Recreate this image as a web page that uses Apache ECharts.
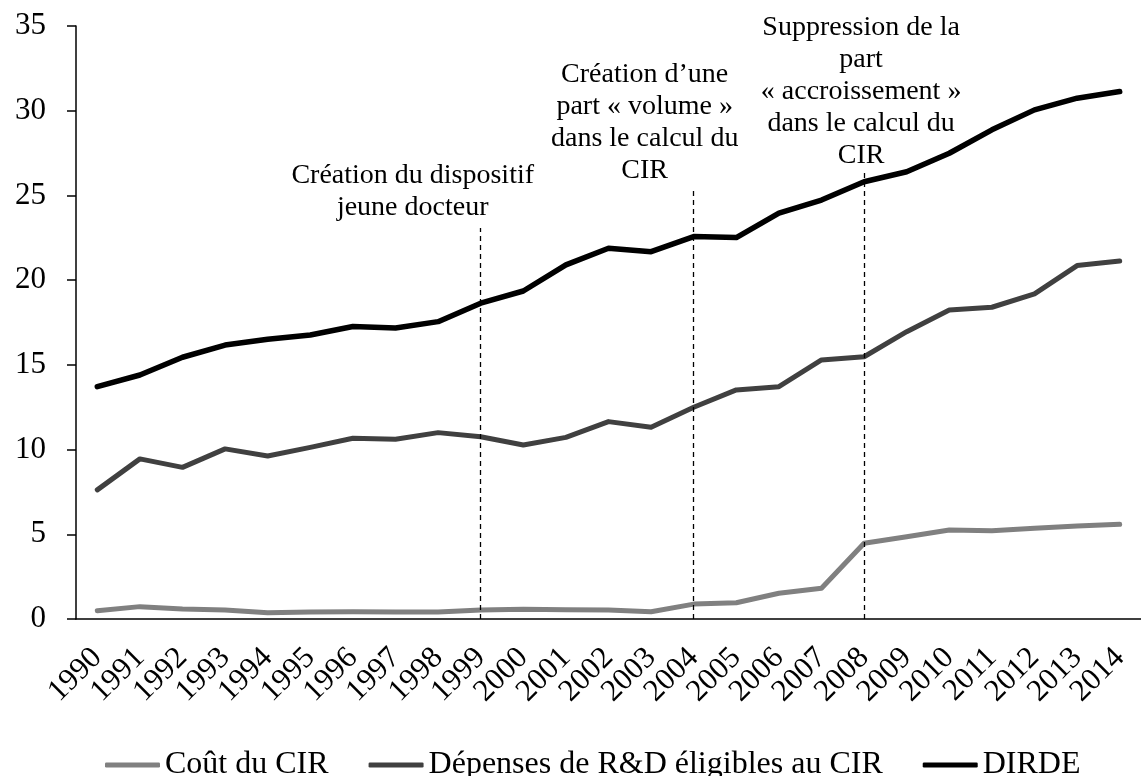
<!DOCTYPE html>
<html>
<head>
<meta charset="utf-8">
<script src="https://cdn.jsdelivr.net/npm/echarts@6/dist/echarts.min.js"></script>
<style>
  html, body { margin: 0; padding: 0; background: #fff; }
  #cirChart { width: 1141px; height: 776px; }
</style>
</head>
<body>
<div id="cirChart"></div>
<script>
// values (milliards d'euros)
var years = ["1990", "1991", "1992", "1993", "1994", "1995", "1996", "1997", "1998", "1999",
  "2000", "2001", "2002", "2003", "2004", "2005", "2006", "2007", "2008", "2009",
  "2010", "2011", "2012", "2013", "2014"];
var coutCIR = [0.49, 0.73, 0.59, 0.53, 0.37, 0.41, 0.43, 0.41, 0.41, 0.53,
  0.57, 0.55, 0.53, 0.43, 0.88, 0.96, 1.52, 1.81, 4.47, 4.86,
  5.25, 5.21, 5.35, 5.49, 5.59];
var depenses = [7.62, 9.45, 8.95, 10.04, 9.62, 10.13, 10.67, 10.61, 11.0, 10.76,
  10.27, 10.72, 11.65, 11.32, 12.5, 13.52, 13.71, 15.29, 15.48, 16.96,
  18.24, 18.4, 19.19, 20.86, 21.13];
var dirde = [13.71, 14.4, 15.45, 16.17, 16.51, 16.76, 17.26, 17.18, 17.55, 18.64,
  19.36, 20.9, 21.88, 21.68, 22.57, 22.51, 23.95, 24.73, 25.81, 26.4,
  27.49, 28.87, 30.05, 30.74, 31.13];

// reforms marked with a dashed line
var reformYears = ["1999", "2004", "2008"];
var reformTops = [23.08, 25.28, 26.33];
var reformTexts = [
  "Création du dispositif\njeune docteur",
  "Création d’une\npart « volume »\ndans le calcul du\nCIR",
  "Suppression de la\npart\n« accroissement »\ndans le calcul du\nCIR"
];

var font = "Liberation Serif";
var myChart = echarts.init(document.getElementById("cirChart"));

// label shift (left) done with padding so the dashed line can stay on the year
var shifts = [68, 49, 3];
var reformLines = reformYears.map(function (y, i) {
  return [
    { coord: [y, 0] },
    {
      coord: [y, reformTops[i]],
      label: {
        formatter: reformTexts[i],
        padding: [0, shifts[i] * 2, 0, 0],
        distance: i === 2 ? 1 : 4
      }
    }
  ];
});

var option = {
  animation: false,
  grid: { left: 76, right: -4, top: 26, bottom: 157 },
  legend: {
    top: 744,
    left: 100,
    itemWidth: 55,
    itemHeight: 5,
    itemGap: 40,
    icon: "roundRect",
    textStyle: { fontFamily: font, fontSize: 32, color: "#000" },
    data: ["Coût du CIR", "Dépenses de R&D éligibles au CIR", "DIRDE"]
  },
  xAxis: {
    type: "category",
    data: years,
    axisLine: { lineStyle: { color: "#000", width: 1.5 } },
    axisTick: { length: 10, lineStyle: { color: "#000", width: 1.5 } },
    axisLabel: {
      interval: 0,
      rotate: 45,
      margin: 34,
      color: "#000",
      fontFamily: font,
      fontSize: 31
    }
  },
  yAxis: {
    type: "value",
    min: 0,
    max: 35,
    interval: 5,
    splitLine: { show: false },
    axisLine: { show: true, lineStyle: { color: "#000", width: 1.5 } },
    axisTick: { show: true, length: 9, lineStyle: { color: "#000", width: 1.5 } },
    axisLabel: { margin: 30, color: "#000", fontFamily: font, fontSize: 31 }
  },
  series: [
    {
      name: "Coût du CIR",
      type: "line",
      data: coutCIR,
      symbol: "none",
      color: "#808080",
      lineStyle: { width: 5, color: "#808080", cap: "round", join: "round" }
    },
    {
      name: "Dépenses de R&D éligibles au CIR",
      type: "line",
      data: depenses,
      symbol: "none",
      color: "#404040",
      lineStyle: { width: 5, color: "#404040", cap: "round", join: "round" }
    },
    {
      name: "DIRDE",
      type: "line",
      data: dirde,
      symbol: "none",
      color: "#000",
      z: 3,
      lineStyle: { width: 5.5, color: "#000", cap: "round", join: "round" },
      markLine: {
        silent: true,
        symbol: "none",
        lineStyle: { color: "#000", width: 1.3, type: [5, 4] },
        label: {
          show: true,
          position: "end",
          color: "#000",
          fontFamily: font,
          fontSize: 28,
          lineHeight: 32,
          align: "center"
        },
        data: reformLines
      }
    }
  ]
};

myChart.setOption(option);
</script>
</body>
</html>
